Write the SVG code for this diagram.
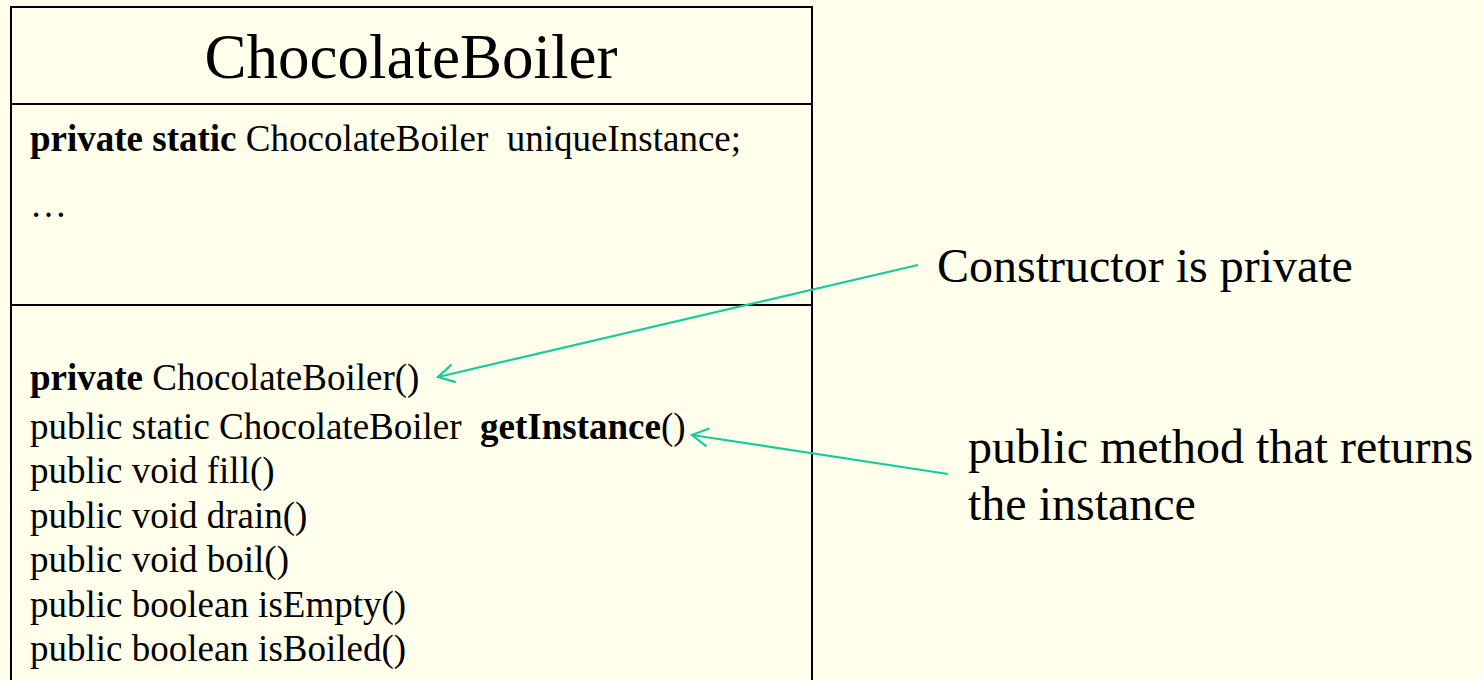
<svg xmlns="http://www.w3.org/2000/svg" width="1483" height="680" viewBox="0 0 1483 680">
  <style>
    .bg { fill: #FFFFEB; }
    .box { fill: none; stroke: #000; stroke-width: 2; }
    .t { font-family: "Liberation Serif", "Times New Roman", serif; fill: #000; }
    .title { font-size: 63px; }
    .member { font-size: 37px; }
    .note { font-size: 48px; }
    .b { font-weight: bold; }
    .link { fill: none; stroke: #14CC9C; stroke-width: 2.2; }
  </style>
  <defs>
    <marker id="openArrow" markerUnits="userSpaceOnUse" markerWidth="26" markerHeight="26" viewBox="0 0 26 24" refX="22" refY="12" orient="auto">
      <path d="M6 3 L22 12 L6 21" fill="none" stroke="#14CC9C" stroke-width="2.2"/>
    </marker>
  </defs>

  <rect class="bg" x="0" y="0" width="1483" height="680"/>

  <!-- UML class: ChocolateBoiler -->
  <g id="class-chocolateboiler">
    <path class="box" d="M11 690 L11 7 L812 7 L812 690"/>
    <line class="box" x1="11" y1="104" x2="812" y2="104"/>
    <line class="box" x1="11" y1="305" x2="812" y2="305"/>
    <text class="t title" x="411" y="78" text-anchor="middle">ChocolateBoiler</text>
    <text class="t member" x="30" y="151" xml:space="preserve"><tspan class="b">private static</tspan> ChocolateBoiler  uniqueInstance;</text>
    <text class="t member" x="30" y="217">…</text>
    <text class="t member" x="30" y="390"><tspan class="b">private</tspan> ChocolateBoiler()</text>
    <text class="t member" x="30" y="439" xml:space="preserve">public static ChocolateBoiler  <tspan class="b">getInstance</tspan>()</text>
    <text class="t member" x="30" y="483">public void fill()</text>
    <text class="t member" x="30" y="528">public void drain()</text>
    <text class="t member" x="30" y="572">public void boil()</text>
    <text class="t member" x="30" y="617">public boolean isEmpty()</text>
    <text class="t member" x="30" y="661">public boolean isBoiled()</text>
  </g>

  <!-- annotations -->
  <g id="note-constructor">
    <text class="t note" x="937" y="282">Constructor is private</text>
  </g>
  <g id="note-getinstance">
    <text class="t note" x="968" y="463">public method that returns</text>
    <text class="t note" x="968" y="520">the instance</text>
  </g>

  <!-- connectors -->
  <g id="connectors">
    <line class="link" x1="918" y1="265" x2="438" y2="377" marker-end="url(#openArrow)"/>
    <line class="link" x1="948" y1="474" x2="692" y2="435" marker-end="url(#openArrow)"/>
  </g>
</svg>
